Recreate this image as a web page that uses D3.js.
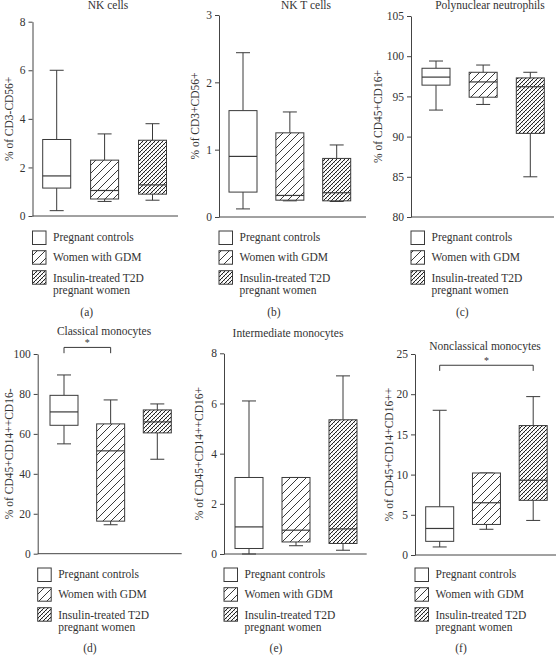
<!DOCTYPE html>
<html><head><meta charset="utf-8">
<script src="https://cdn.jsdelivr.net/npm/d3@7"></script>
<style>
body{margin:0;background:#fff}
svg{display:block}
text{font-family:"Liberation Serif","Times New Roman",serif;fill:#333}
</style>
</head><body>
<svg id="chart" width="558" height="655"></svg>
<script>
// ---- data: each group as [min, q1, median, q3, max] ----
const groups = ["Pregnant controls", "Women with GDM", "Insulin-treated T2D pregnant women"];
const legendLines = [["Pregnant controls"], ["Women with GDM"], ["Insulin-treated T2D", "pregnant women"]];

const nkCells = [[0.22, 1.15, 1.65, 3.15, 6.0], [0.6, 0.7, 1.05, 2.3, 3.38], [0.65, 0.9, 1.28, 3.12, 3.8]];
const nkTCells = [[0.12, 0.37, 0.9, 1.58, 2.44], [0.24, 0.25, 0.32, 1.25, 1.56], [0.23, 0.24, 0.36, 0.87, 1.07]];
const neutrophils = [[93.3, 96.4, 97.4, 98.5, 99.4], [94.0, 94.9, 96.8, 98.0, 98.9], [85.0, 90.4, 96.2, 97.3, 98.0]];
const classicalMono = [[55, 64.3, 71, 79.3, 89.5], [14.5, 16.3, 51.5, 65, 77], [47.3, 60.5, 66, 72, 75]];
const intermediateMono = [[0.0, 0.22, 1.08, 3.05, 6.1], [0.33, 0.48, 0.95, 3.05, 3.05], [0.15, 0.42, 1.0, 5.35, 7.1]];
const nonclassicalMono = [[1.0, 1.7, 3.3, 6.0, 18.0], [3.2, 3.8, 6.5, 10.2, 10.2], [4.3, 6.8, 9.3, 16.1, 19.7]];

const nkTicks = [0, 2, 4, 6, 8];
const nkTTicks = [0, 1, 2, 3];
const neutroTicks = [80, 85, 90, 95, 100, 105];
const classicalTicks = [0, 20, 40, 60, 80, 100];
const intermediateTicks = [0, 2, 4, 6, 8];
const nonclassicalTicks = [0, 5, 10, 15, 20, 25];

// significance brackets: [groupFrom, groupTo, bracket level, leg end level]
const classicalSig = [[0, 1, 103.3, 100.4]];
const nonclassicalSig = [[0, 2, 23.6, 22.9]];

// ---- layout ----
const panels = [
  {title: "NK cells", ylabel: "% of CD3-CD56+", stats: nkCells, ticks: nkTicks, sig: [],
   ax: 32.5, xc: [56.7, 152.5], xEnd: 178, yTop: 21.7, yBot: 216, tx: 108, ty: 9, lx: 9, sub: "(a)", sx: 86.7, row: 0},
  {title: "NK T cells", ylabel: "% of CD3+CD56+", stats: nkTCells, ticks: nkTTicks, sig: [],
   ax: 219, xc: [243, 336.7], xEnd: 366, yTop: 15, yBot: 217, tx: 306, ty: 9, lx: 195, sub: "(b)", sx: 274, row: 0},
  {title: "Polynuclear neutrophils", ylabel: "% of CD45+CD16+", stats: neutrophils, ticks: neutroTicks, sig: [],
   ax: 411, xc: [436, 530.3], xEnd: 554, yTop: 16, yBot: 217, tx: 490, ty: 9, lx: 378, sub: "(c)", sx: 462.3, row: 0},
  {title: "Classical monocytes", ylabel: "% of CD45+CD14++CD16-", stats: classicalMono, ticks: classicalTicks, sig: classicalSig,
   ax: 37.7, xc: [64, 157.3], xEnd: 181.7, yTop: 354, yBot: 553.7, tx: 104, ty: 335, lx: 9, sub: "(d)", sx: 90, row: 1},
  {title: "Intermediate monocytes", ylabel: "% of CD45+CD14++CD16+", stats: intermediateMono, ticks: intermediateTicks, sig: [],
   ax: 224, xc: [249, 343], xEnd: 366.7, yTop: 353.3, yBot: 554, tx: 288, ty: 336.7, lx: 199, sub: "(e)", sx: 276, row: 1},
  {title: "Nonclassical monocytes", ylabel: "% of CD45+CD14+CD16++", stats: nonclassicalMono, ticks: nonclassicalTicks, sig: nonclassicalSig,
   ax: 415, xc: [439.7, 533.2], xEnd: 556, yTop: 354, yBot: 555, tx: 485, ty: 350, lx: 389, sub: "(f)", sx: 461, row: 1}
];
const legendTop = [231, 568];
const subY = [316, 652];
const boxW = 28, capW = 14, stroke = "#3a3a3a";
const FONT = '"Liberation Serif","Times New Roman",serif';

const svg = d3.select("#chart");
const defs = svg.append("defs");

// hatch for GDM
const p1 = defs.append("pattern").attr("id", "hatch").attr("patternUnits", "userSpaceOnUse")
  .attr("width", 8).attr("height", 8);
p1.append("rect").attr("width", 8).attr("height", 8).attr("fill", "#fff");
p1.append("path").attr("d", "M-2,2 L2,-2 M0,8 L8,0 M6,10 L10,6").attr("stroke", stroke).attr("stroke-width", 1);

// dense hatch for insulin-treated
const p2 = defs.append("pattern").attr("id", "dense").attr("patternUnits", "userSpaceOnUse")
  .attr("width", 4).attr("height", 4);
p2.append("rect").attr("width", 4).attr("height", 4).attr("fill", "#fff");
p2.append("path").attr("d", "M-1,1 L1,-1 M0,4 L4,0 M3,5 L5,3").attr("stroke", "#222").attr("stroke-width", 1);
p2.append("path").attr("d", "M0.3,0.3 L1.2,1.2 M2.3,2.3 L3.2,3.2").attr("stroke", "#666").attr("stroke-width", 0.6);

const fills = ["#fff", "url(#hatch)", "url(#dense)"];

panels.forEach(p => {
  const g = svg.append("g");
  const y = d3.scaleLinear().domain(d3.extent(p.ticks)).range([p.yBot, p.yTop]);
  const x = d3.scalePoint().domain(d3.range(groups.length)).range(p.xc);

  // y axis
  const yAxis = g.append("g").attr("transform", `translate(${p.ax},0)`)
    .call(d3.axisLeft(y).tickValues(p.ticks).tickFormat(d3.format("~g")).tickSize(4).tickSizeOuter(0).tickPadding(3));
  yAxis.selectAll("path,line").attr("stroke", "#444").attr("stroke-width", 1);
  yAxis.selectAll("text").style("font-family", FONT).style("font-size", "11.5px").attr("fill", "#333");

  // x axis line
  g.append("line").attr("x1", p.ax).attr("x2", p.xEnd).attr("y1", p.yBot).attr("y2", p.yBot)
    .attr("stroke", "#444").attr("stroke-width", 1);

  // boxes
  p.stats.forEach((s, i) => {
    const cx = x(i);
    const [mn, q1, md, q3, mx] = s;
    const bg = g.append("g");
    bg.append("line").attr("x1", cx).attr("x2", cx).attr("y1", y(mx)).attr("y2", y(q3)).attr("stroke", stroke);
    bg.append("line").attr("x1", cx).attr("x2", cx).attr("y1", y(q1)).attr("y2", y(mn)).attr("stroke", stroke);
    bg.append("line").attr("x1", cx - capW / 2).attr("x2", cx + capW / 2).attr("y1", y(mx)).attr("y2", y(mx)).attr("stroke", stroke);
    bg.append("line").attr("x1", cx - capW / 2).attr("x2", cx + capW / 2).attr("y1", y(mn)).attr("y2", y(mn)).attr("stroke", stroke);
    bg.append("rect").attr("x", cx - boxW / 2).attr("y", y(q3)).attr("width", boxW).attr("height", y(q1) - y(q3))
      .attr("fill", fills[i]).attr("stroke", stroke).attr("stroke-width", 1);
    bg.append("line").attr("x1", cx - boxW / 2).attr("x2", cx + boxW / 2).attr("y1", y(md)).attr("y2", y(md))
      .attr("stroke", stroke).attr("stroke-width", 1.2);
  });

  // significance
  p.sig.forEach(([a, b, lvl, leg]) => {
    const x1 = x(a), x2 = x(b);
    g.append("path").attr("d", `M${x1},${y(leg)} V${y(lvl)} H${x2} V${y(leg)}`)
      .attr("fill", "none").attr("stroke", stroke).attr("stroke-width", 1);
    g.append("text").attr("x", (x1 + x2) / 2).attr("y", y(lvl) - 1).attr("text-anchor", "middle")
      .style("font-size", "10px").text("*");
  });

  // title
  g.append("text").attr("x", p.tx).attr("y", p.ty).attr("text-anchor", "middle")
    .style("font-size", "11.5px").text(p.title);

  // y label
  g.append("text").attr("transform", `translate(${p.lx + 4},${(p.yTop + p.yBot) / 2}) rotate(-90)`)
    .attr("text-anchor", "middle").style("font-size", "11.5px").text(p.ylabel);

  // legend
  const lt = legendTop[p.row];
  const rowOff = [0, 19.7, 39.7];
  groups.forEach((gr, i) => {
    const yy = lt + rowOff[i];
    g.append("rect").attr("x", p.ax).attr("y", yy).attr("width", 13.5).attr("height", 13.5)
      .attr("fill", fills[i]).attr("stroke", stroke).attr("stroke-width", 1);
    legendLines[i].forEach((ln, j) => {
      g.append("text").attr("x", p.ax + 20.5).attr("y", yy + 10 + (i === 2 ? 1.6 : 0) + j * 11.7)
        .style("font-size", "11.5px").text(ln);
    });
  });

  // sub label
  g.append("text").attr("x", p.sx).attr("y", subY[p.row]).attr("text-anchor", "middle")
    .style("font-size", "11.5px").text(p.sub);
});
</script>
</body></html>
